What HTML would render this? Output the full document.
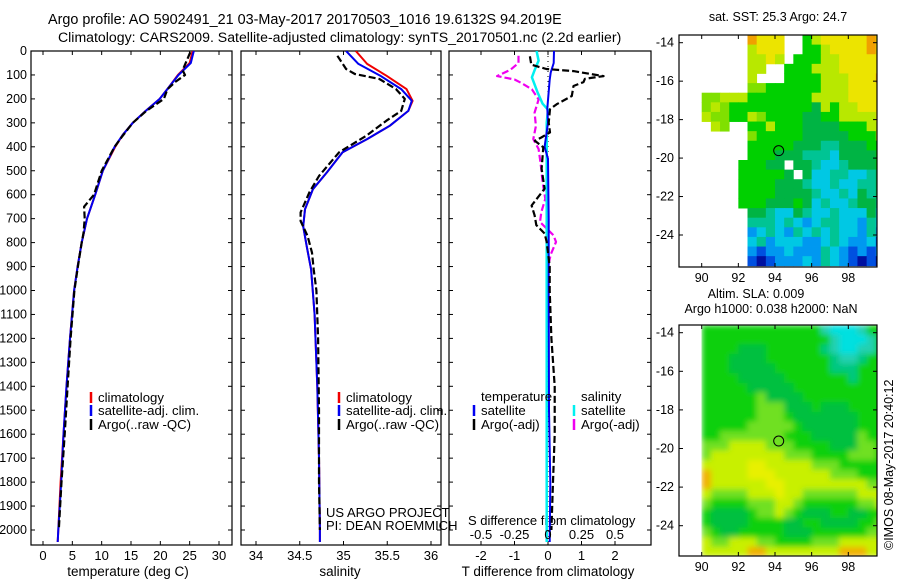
<!DOCTYPE html>
<html><head><meta charset="utf-8"><style>
html,body{margin:0;padding:0;background:#fff;}
svg{display:block;font-family:"Liberation Sans",sans-serif;}
</style></head><body>
<svg id="fig" xmlns="http://www.w3.org/2000/svg" width="900" height="580" viewBox="0 0 900 580">
<defs>
<filter id="blur2" x="0" y="0" width="1" height="1"><feGaussianBlur stdDeviation="3" edgeMode="duplicate"/></filter>
<clipPath id="clipM1"><rect x="679" y="35" width="198" height="232"/></clipPath>
<clipPath id="clipM2"><rect x="700" y="325" width="177" height="231"/></clipPath>
<clipPath id="clipP1"><rect x="31" y="51" width="201" height="494"/></clipPath>
<clipPath id="clipP2"><rect x="241" y="51" width="200" height="494"/></clipPath>
<clipPath id="clipP3"><rect x="449" y="51" width="202" height="494"/></clipPath>
</defs>
<text x="48" y="24" font-size="14.4">Argo profile: AO 5902491_21 03-May-2017 20170503_1016 19.6132S 94.2019E</text>
<text x="58" y="42" font-size="14.1">Climatology: CARS2009. Satellite-adjusted climatology: synTS_20170501.nc (2.2d earlier)</text>
<text x="778" y="21" font-size="12.5" text-anchor="middle">sat. SST: 25.3 Argo: 24.7</text>
<text x="756" y="298" font-size="12.5" text-anchor="middle">Altim. SLA: 0.009</text>
<text x="771" y="313" font-size="12.5" text-anchor="middle">Argo h1000: 0.038 h2000: NaN</text>
<text x="0" y="0" font-size="12.5" transform="translate(893,550) rotate(-90)">©IMOS 08-May-2017 20:40:12</text>
<text x="128" y="576" font-size="13.5" text-anchor="middle">temperature (deg C)</text>
<text x="340" y="576" font-size="13.5" text-anchor="middle">salinity</text>
<text x="548" y="576" font-size="13.5" text-anchor="middle">T difference from climatology</text>
<text x="468" y="525" font-size="13">S difference from climatology</text>
<text x="326" y="517" font-size="13">US ARGO PROJECT</text>
<text x="326" y="530" font-size="13">PI: DEAN ROEMMICH</text>
</svg>
<script>
// ---- data ----
const depthAxisTicks = [0,100,200,300,400,500,600,700,800,900,1000,1100,1200,1300,1400,1500,1600,1700,1800,1900,2000];
const tempTicks = [0,5,10,15,20,25,30];
const salTicks = [34,34.5,35,35.5,36];
const salTickLabels = ['34','34.5','35','35.5','36'];
const tDiffTicks = [-2,-1,0,1,2];
const sDiffTicks = [-0.5,-0.25,0,0.25,0.5];
const sDiffTickLabels = ['-0.5','-0.25','0','0.25','0.5'];

const depthT = [0,50,100,150,200,250,300,350,400,500,600,700,800,900,1000,1200,1400,1600,1800,2000,2050];
const climT = [25.5,25.0,23.0,21.5,19.9,17.5,15.3,13.6,12.3,10.2,8.9,7.5,6.6,5.9,5.3,4.6,4.0,3.5,3.0,2.6,2.5];
const satT = [25.7,25.2,23.1,21.5,19.9,17.5,15.3,13.6,12.2,10.2,8.9,7.5,6.6,5.9,5.3,4.6,4.0,3.5,3.1,2.6,2.5];
const depthArgoT = [5,40,80,100,130,160,200,250,300,360,400,500,600,650,700,760,800,900,1000,1200,1400,1600,1800,2000];
const argoT = [25.1,24.5,23.8,24.2,22.5,21.2,20.6,17.6,15.3,13.4,12.2,10.0,8.7,7.0,7.1,6.9,6.6,5.95,5.35,4.7,4.2,3.7,3.15,2.7];

const depthS = [0,54,103,159,208,250,312,368,423,507,577,661,732,815,912,1100,1400,1700,2000,2050];
const climS = [35.14,35.27,35.49,35.72,35.79,35.74,35.53,35.27,34.99,34.81,34.65,34.56,34.54,34.58,34.63,34.67,34.70,34.72,34.73,34.73];
const satS = [35.03,35.17,35.42,35.66,35.78,35.74,35.53,35.27,34.99,34.81,34.65,34.56,34.54,34.58,34.63,34.67,34.70,34.72,34.73,34.73];
const depthArgoS = [20,75,96,117,159,200,250,291,354,423,522,590,674,710,773,842,912,1000,1200,1500,1800,2000];
const argoS = [34.93,35.03,35.13,35.41,35.60,35.70,35.66,35.49,35.26,34.95,34.72,34.61,34.51,34.51,34.59,34.64,34.66,34.69,34.71,34.72,34.72,34.73];

const depthDTargo = [22,57,75,84,98,105,116,130,146,188,222,243,299,340,361,375,402,492,575,645,686,727,762,797,900,1000,1200,1400,1600,1800,2000];
const dTargo = [-0.54,-0.5,-0.05,0.76,1.36,1.66,1.1,1.06,0.76,0.71,0.26,0.06,0.02,0.06,-0.2,-0.39,-0.14,-0.19,-0.1,-0.49,-0.4,-0.35,-0.1,-0.04,0.05,0.05,0.1,0.2,0.2,0.15,0.1];
const depthDTsat = [0,50,90,120,170,240,300,400,450,700,1000,1500,1800,2050];
const dTsat = [0.18,0.17,0.08,0.05,0.02,-0.02,0,-0.1,0,0.02,0.02,0.03,0.07,0.05];
const depthDSsat = [0,40,80,110,170,220,245,300,2050];
const dSsat = [-0.085,-0.07,-0.10,-0.12,-0.08,-0.04,0,-0.01,-0.01];
const depthDSargo = [20,50,78,105,119,133,160,202,257,313,368,409,451,493,548,617,673,714,769,797,850,900];
const dSargo = [-0.22,-0.22,-0.28,-0.38,-0.25,-0.2,-0.12,-0.07,-0.1,-0.09,-0.11,-0.07,-0.06,-0.05,-0.04,-0.02,-0.05,-0.06,0.04,0.06,0.02,0.0];

const mapLonTicks = [90,92,94,96,98];
const mapLatTicks = [-14,-16,-18,-20,-22,-24];
const argoLon = 94.2019;
const argoLat = -19.6132;

const sstGrid = [
".......oyyy..glyyyyyoy",
".......lyyy..gglyyyyoy",
".......llyl.gggllyyyyy",
".......ll..ggglllyyyyy",
".......l...gggglllyyyo",
".......LLgggggglllyyyy",
"..LLlllgggggggllllyyyy",
"..LlLgggggggggGlgllyyy",
"..lLLgglLggggGGgglllly",
"...lL..gglgggGGGGgggll",
".......LgggggGGGGGgggl",
".......gggggGGGttGGGgg",
".......gggGGGtttcGGGGg",
"......gggGG.GGtcctGGGg",
"......gggggG.GccttcctG",
"......ggggGGGtcctccttG",
"......ggggGGGGtcctcGtG",
"......gggGGGgGctcctGGt",
".......GGtccGtcctcccGc",
".......tttctcbcttccbtc",
".......bctcbtctctccbtb",
".......ctbcccbbctcbbcB",
".......bBbbcbbbtcbBbBb",
".......BnBbbbcbtcbBnBn"];
const sstColors = {o:'#f0a000',y:'#ece400',l:'#b8e800',L:'#80e000',g:'#00d000',G:'#00b444',t:'#00c494',c:'#00c8e4',b:'#0098f0',B:'#0050e0',n:'#0010a0'};

const slaGrid = [
"gggggggggggggcCCCcgg",
"ggggggggggggggcCCCcg",
"ggggGGGggggggTcCCccg",
"gggGGGGgggggggTccTgg",
"gggGGGGGggggggTTTggg",
"ggggGGGGGgggggggTggg",
"gggggGGGGGgggggggggg",
"gggggglGGGGggggggggg",
"gggggglllGGGgGGGgggg",
"gggggglllgGGGGGGGggg",
"ggggglllllgGGGGGGggg",
"gglllllllgggGGGGGlgg",
"lllyyyylllggggGGGllg",
"lyyyyyyyylllgggglllg",
"yyyyyYYyyyyylllggggg",
"oyyyyYYYyyyyyylllggg",
"oyyyyyyYYyyyyyyyyyll",
"yllllyyyYyyllllllyyy",
"lgggglllyylgggggglly",
"gGGGGgllylgGGGggGGgg",
"gGGGGggggGGggGGGGggl",
"lgGGgggggGGGggggggll",
"yllyyyllgggglllyyyyy",
"yyyyyooyyyyyyyyoooyy"];
const slaColors = {g:'#10d010',G:'#00c040',l:'#70e020',y:'#c8f000',Y:'#e8f000',o:'#f0b000',c:'#20d0b0',C:'#00e0e0',T:'#00c880'};

// ---- helpers ----
const NS = 'http://www.w3.org/2000/svg';
const svg = document.getElementById('fig');
function el(tag, parent){ const e = document.createElementNS(NS, tag); (parent||svg).appendChild(e); return e; }
function lin(d0,d1,r0,r1){ return v => r0 + (v-d0)*(r1-r0)/(d1-d0); }

const TOP = 51, BOT = 545;
const yDepth = lin(0, 2000, 51, 530);

function panel(name, x0, x1, xScale, xticks, xlabels, clip){
  const g = el('g');
  
  
  const box = el('rect', g);
  box.setAttribute('x', x0); box.setAttribute('y', TOP); box.setAttribute('width', x1-x0); box.setAttribute('height', BOT-TOP);
  box.setAttribute('fill', 'none'); box.setAttribute('stroke', '#000'); box.setAttribute('stroke-width', '1.2');
  
  
  depthAxisTicks.forEach(d => {
    const y = yDepth(d);
    [[x0, x0+4],[x1, x1-4]].forEach(p => {
      const t = el('line', g);
      t.setAttribute('x1', p[0]); t.setAttribute('x2', p[1]); t.setAttribute('y1', y); t.setAttribute('y2', y);
      t.setAttribute('stroke', '#000');
      
      
    });
  });
  xticks.forEach((v,i) => {
    const x = xScale(v);
    [[BOT, BOT-4],[TOP, TOP+4]].forEach(p => {
      const t = el('line', g);
      t.setAttribute('x1', x); t.setAttribute('x2', x); t.setAttribute('y1', p[0]); t.setAttribute('y2', p[1]);
      t.setAttribute('stroke', '#000');
      
      
    });
    const lb = el('text', g);
    lb.setAttribute('x', x); lb.setAttribute('y', 560); lb.setAttribute('font-size', '13'); lb.setAttribute('text-anchor', 'middle');
    lb.textContent = xlabels ? xlabels[i] : String(v);
    
    
  });
  const cg = el('g', g);
  cg.setAttribute('clip-path', 'url(#' + clip + ')');
  
  
  return cg;
}
function series(parent, name, xs, ds, xScale, color, dash, width){
  const p = el('polyline', parent);
  p.setAttribute('points', xs.map((v,i) => xScale(v).toFixed(1) + ',' + yDepth(ds[i]).toFixed(1)).join(' '));
  p.setAttribute('fill', 'none'); p.setAttribute('stroke', color); p.setAttribute('stroke-width', width || 2);
  if (dash) p.setAttribute('stroke-dasharray', dash);
  p.setAttribute('stroke-linejoin', 'round');
  
  
  return p;
}
function legendEntry(x, y, color, label, name){
  const t = el('line');
  t.setAttribute('x1', x); t.setAttribute('x2', x); t.setAttribute('y1', y-10); t.setAttribute('y2', y+1);
  t.setAttribute('stroke', color); t.setAttribute('stroke-width', 2.5);
  
  
  const tx = el('text');
  tx.setAttribute('x', x+7); tx.setAttribute('y', y); tx.setAttribute('font-size', '13.2');
  tx.textContent = label;
  
  
}

// depth labels
depthAxisTicks.forEach(d => {
  const t = el('text');
  t.setAttribute('x', 27); t.setAttribute('y', yDepth(d)+4); t.setAttribute('font-size', '12.5'); t.setAttribute('text-anchor', 'end');
  t.textContent = String(d);
  
  
});

// panel 1 temperature
const xT = lin(0, 30, 43, 219);
const p1 = panel('temperature-panel', 31, 232, xT, tempTicks, null, 'clipP1');
series(p1, 'temperature-climatology-line', climT, depthT, xT, '#f00000', null, 2);
series(p1, 'temperature-satellite-line', satT, depthT, xT, '#0000f0', null, 2);
series(p1, 'temperature-argo-line', argoT, depthArgoT, xT, '#000', '7 3', 2.2);
legendEntry(91, 402, '#f00000', 'climatology', 'legend-t-climatology');
legendEntry(91, 415, '#0000f0', 'satellite-adj. clim.', 'legend-t-satellite');
legendEntry(91, 429, '#000', 'Argo(..raw -QC)', 'legend-t-argo');

// panel 2 salinity
const xS = lin(34, 36, 256, 431);
const p2 = panel('salinity-panel', 241, 441, xS, salTicks, salTickLabels, 'clipP2');
series(p2, 'salinity-climatology-line', climS, depthS, xS, '#f00000', null, 2);
series(p2, 'salinity-satellite-line', satS, depthS, xS, '#0000f0', null, 2);
series(p2, 'salinity-argo-line', argoS, depthArgoS, xS, '#000', '7 3', 2.2);
legendEntry(339, 402, '#f00000', 'climatology', 'legend-s-climatology');
legendEntry(339, 415, '#0000f0', 'satellite-adj. clim.', 'legend-s-satellite');
legendEntry(339, 429, '#000', 'Argo(..raw -QC)', 'legend-s-argo');

// panel 3 differences
const xDT = lin(-2, 2, 481, 615);
const xDS = lin(-0.5, 0.5, 481, 615);
const p3 = panel('difference-panel', 449, 651, xDT, tDiffTicks, null, 'clipP3');
const zl = el('line', p3);
zl.setAttribute('x1', xDT(0)); zl.setAttribute('x2', xDT(0)); zl.setAttribute('y1', TOP); zl.setAttribute('y2', BOT);
zl.setAttribute('stroke', '#000'); zl.setAttribute('stroke-dasharray', '1 4');


series(p3, 's-diff-argo-line', dSargo, depthDSargo, xDS, '#f000f0', '7 3', 2.2);
series(p3, 's-diff-satellite-line', dSsat, depthDSsat, xDS, '#00f0f0', null, 2.5);
series(p3, 't-diff-satellite-line', dTsat, depthDTsat, xDT, '#0000f0', null, 2);
series(p3, 't-diff-argo-line', dTargo, depthDTargo, xDT, '#000', '7 3', 2.2);
sDiffTicks.forEach((v,i) => {
  const t = el('text');
  t.setAttribute('x', xDS(v)); t.setAttribute('y', 539); t.setAttribute('font-size', '13'); t.setAttribute('text-anchor', 'middle');
  t.textContent = sDiffTickLabels[i];
  
  
});
const lt1 = el('text'); lt1.setAttribute('x', 481); lt1.setAttribute('y', 401); lt1.setAttribute('font-size', '13.2'); lt1.textContent = 'temperature';


const lt2 = el('text'); lt2.setAttribute('x', 581); lt2.setAttribute('y', 401); lt2.setAttribute('font-size', '13.2'); lt2.textContent = 'salinity';


legendEntry(474, 415, '#0000f0', 'satellite', 'legend-dt-satellite');
legendEntry(474, 429, '#000', 'Argo(-adj)', 'legend-dt-argo');
legendEntry(574, 415, '#00f0f0', 'satellite', 'legend-ds-satellite');
legendEntry(574, 429, '#f000f0', 'Argo(-adj)', 'legend-ds-argo');

// ---- maps ----
function drawMap(name, grid, colors, lon0, yTop, yBot, latAt14, pxPerLat, clip, blur, labelY){
  const xLon = lin(90, 98, 701.7, 848.3);
  const yLat = v => latAt14 + (-14 - v) * pxPerLat;
  const g = el('g');
  
  
  const cells = el('g', g);
  cells.setAttribute('clip-path', 'url(#' + clip + ')');
  if (blur) cells.setAttribute('filter', 'url(#blur2)');
  
  
  grid.forEach((row, r) => {
    const la0 = -13.6 - 0.5*r;
    for (let k = 0; k < row.length; k++) {
      const c = row[k];
      if (c === '.') continue;
      const lo = lon0 + 0.5*k;
      const rc = el('rect', cells);
      rc.setAttribute('x', xLon(lo).toFixed(2));
      rc.setAttribute('y', yLat(la0).toFixed(2));
      rc.setAttribute('width', (xLon(lo+0.5)-xLon(lo)+0.4).toFixed(2));
      rc.setAttribute('height', (yLat(la0-0.5)-yLat(la0)+0.4).toFixed(2));
      rc.setAttribute('fill', colors[c]);
      
      
    }
  });
  const box = el('rect', g);
  box.setAttribute('x', 679); box.setAttribute('y', yTop); box.setAttribute('width', 198); box.setAttribute('height', yBot-yTop);
  box.setAttribute('fill', 'none'); box.setAttribute('stroke', '#000'); box.setAttribute('stroke-width', '1.2');
  
  
  mapLonTicks.forEach(v => {
    const x = xLon(v);
    [[yBot, yBot-4],[yTop, yTop+4]].forEach(p => {
      const t = el('line', g);
      t.setAttribute('x1', x); t.setAttribute('x2', x); t.setAttribute('y1', p[0]); t.setAttribute('y2', p[1]); t.setAttribute('stroke', '#000');
      
      
    });
    const lb = el('text', g);
    lb.setAttribute('x', x); lb.setAttribute('y', labelY); lb.setAttribute('font-size', '12.5'); lb.setAttribute('text-anchor', 'middle');
    lb.textContent = String(v);
    
    
  });
  mapLatTicks.forEach(v => {
    const y = yLat(v);
    [[679, 683],[877, 873]].forEach(p => {
      const t = el('line', g);
      t.setAttribute('x1', p[0]); t.setAttribute('x2', p[1]); t.setAttribute('y1', y); t.setAttribute('y2', y); t.setAttribute('stroke', '#000');
      
      
    });
    const lb = el('text', g);
    lb.setAttribute('x', 674); lb.setAttribute('y', y+4); lb.setAttribute('font-size', '12.5'); lb.setAttribute('text-anchor', 'end');
    lb.textContent = String(v);
    
    
  });
  const ci = el('circle', g);
  ci.setAttribute('cx', xLon(argoLon)); ci.setAttribute('cy', yLat(argoLat)); ci.setAttribute('r', 5);
  ci.setAttribute('fill', 'none'); ci.setAttribute('stroke', '#000'); ci.setAttribute('stroke-width', 1);
  
  
}
drawMap('sst-map', sstGrid, sstColors, 89, 35, 267, 42.7, 19.23, 'clipM1', false, 282);
drawMap('sla-map', slaGrid, slaColors, 90, 325, 556, 332.7, 19.3, 'clipM2', true, 571);
</script>
</body></html>
